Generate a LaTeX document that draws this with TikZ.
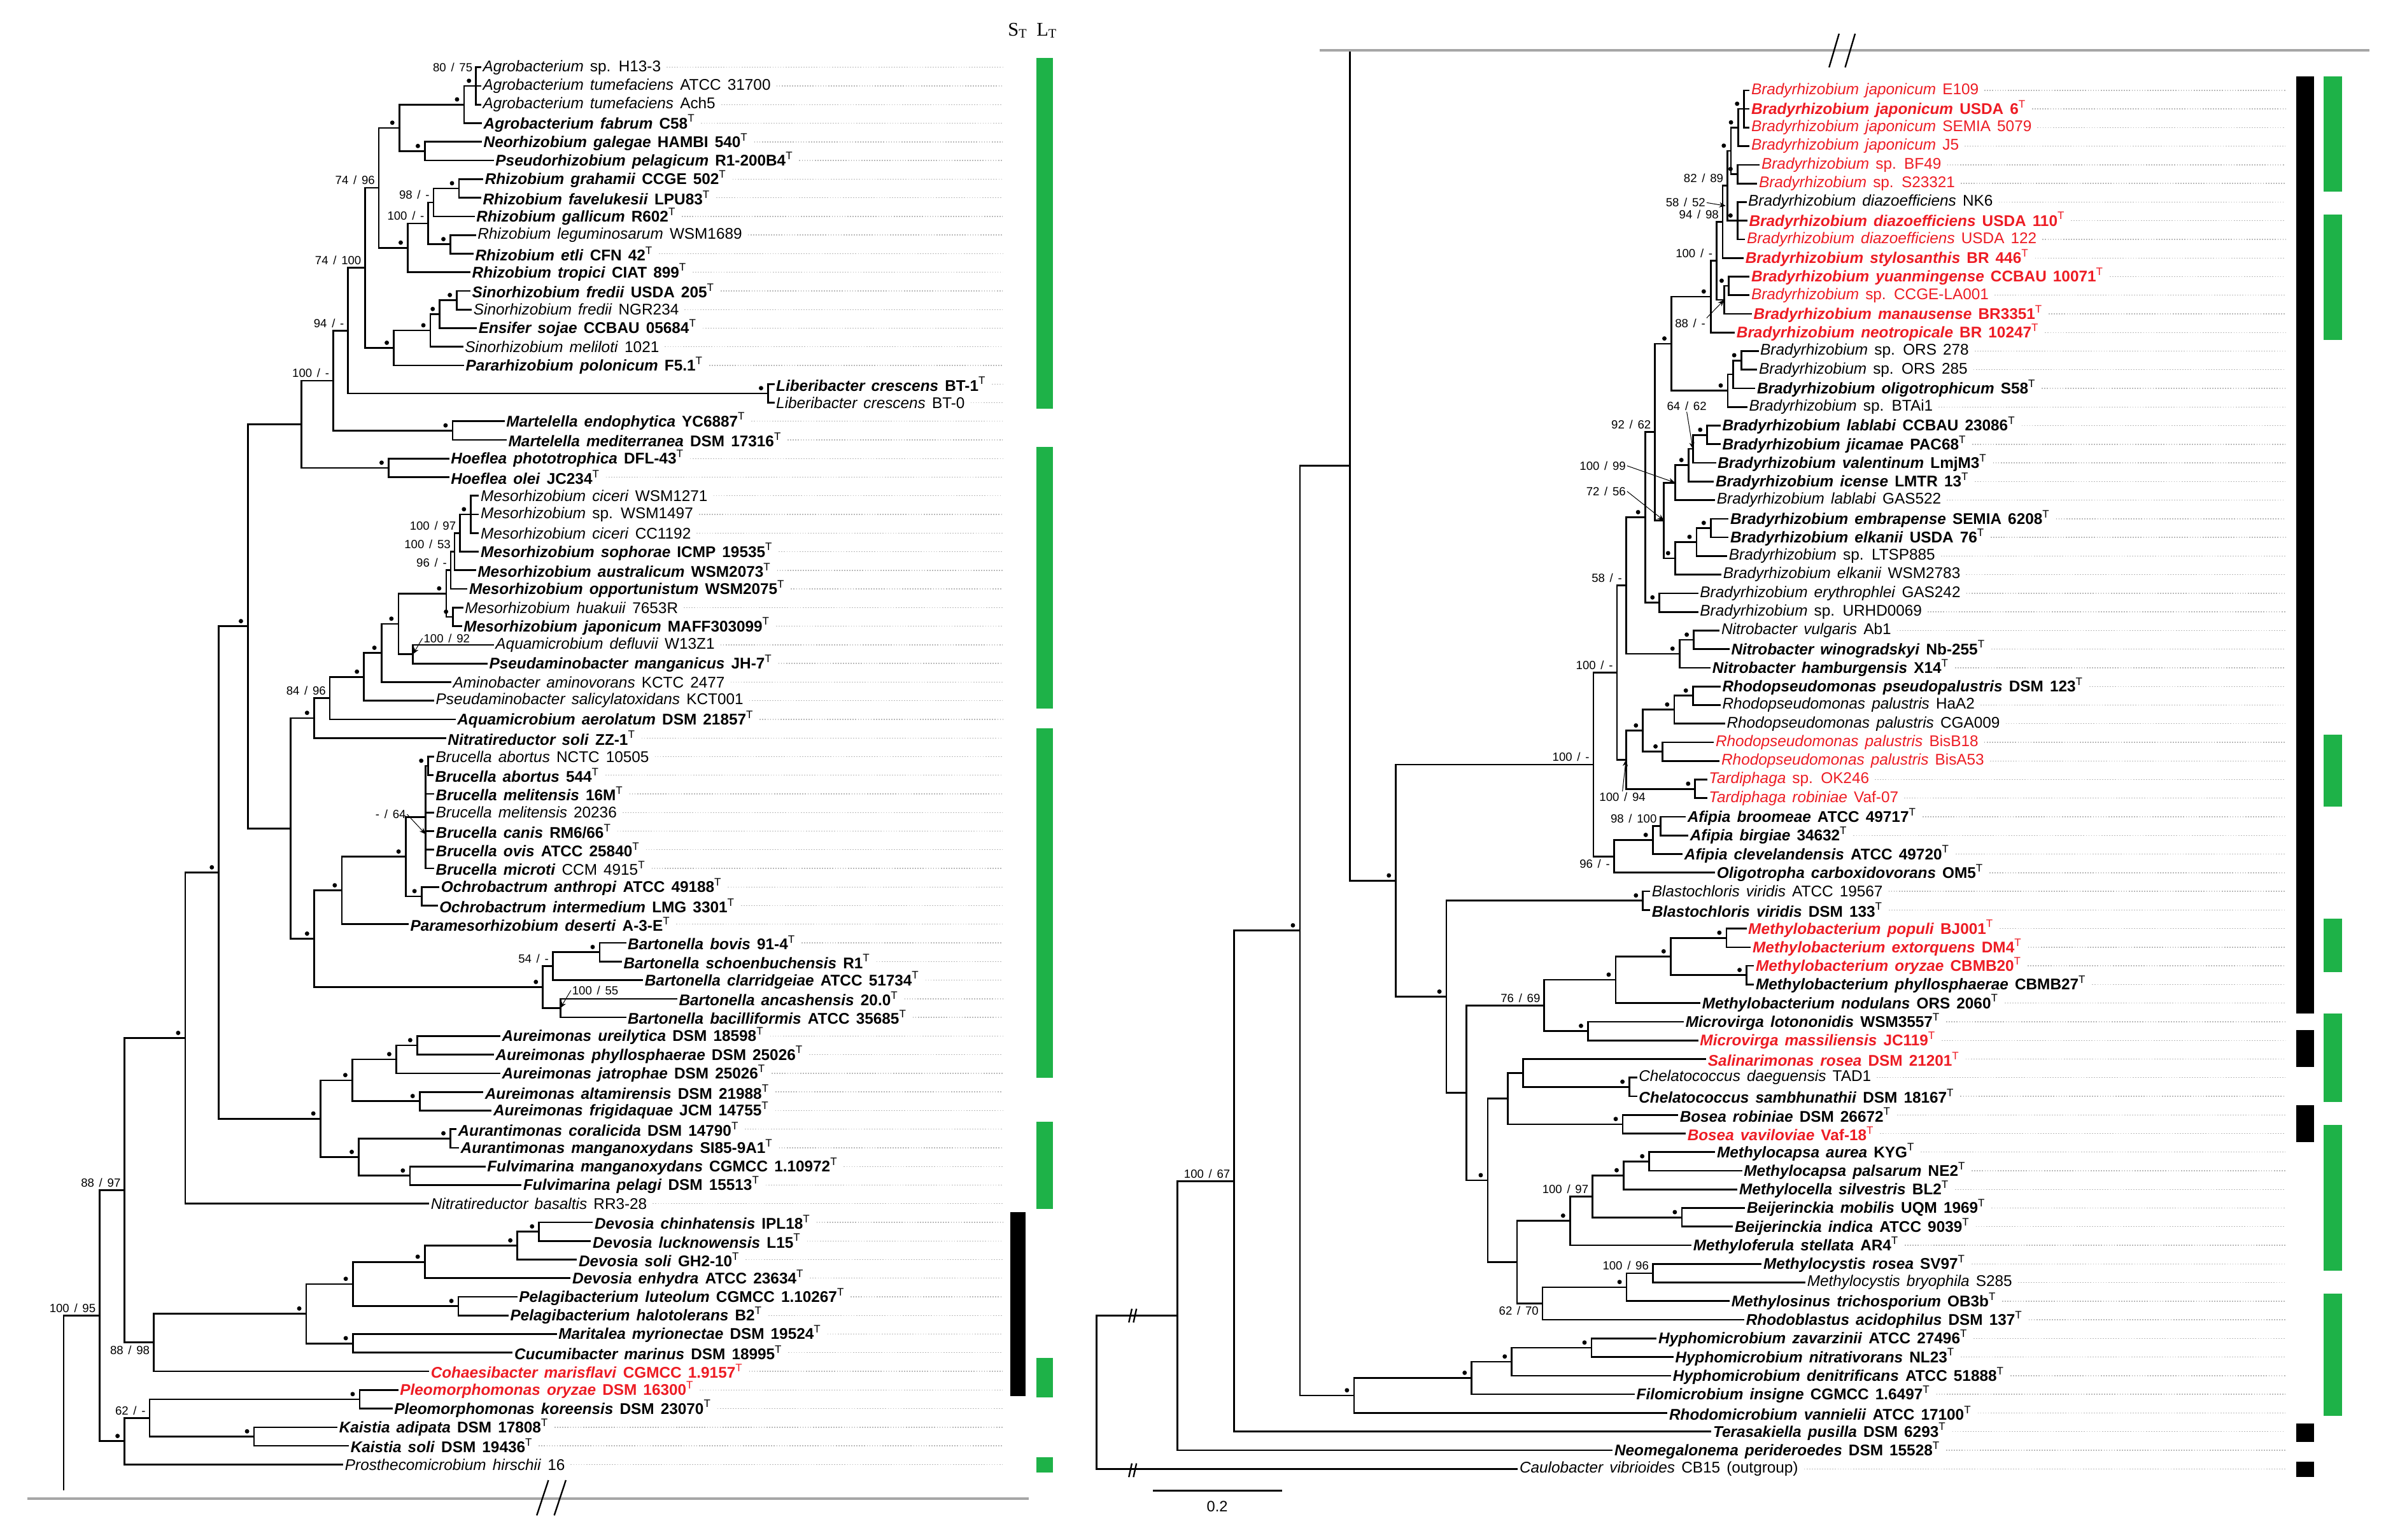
\documentclass[tikz,border=0pt]{standalone}
\usepackage{fontspec}
\setmainfont{Liberation Sans}[WordSpace=1.5]
\newfontfamily\serifhead{Liberation Serif}
\usepackage{tikz}
\usetikzlibrary{calc,arrows.meta}
\definecolor{strainred}{RGB}{237,28,36}
\definecolor{bargreen}{RGB}{30,178,72}
\definecolor{guidegray}{RGB}{185,185,185}

\tikzset{
  br/.style={line width=0.8pt, line cap=rect},
  leaf/.style={anchor=west, inner sep=1pt, font=\fontsize{7.2}{7.5}\selectfont},
  supp/.style={inner sep=0.4pt, font=\fontsize{5.5}{6}\selectfont},
  guide/.style={guidegray, line width=0.4pt, dash pattern=on 0.5pt off 0.7pt},
  sarr/.style={line width=0.3pt, -{Stealth[length=3pt,width=2.4pt]}},
  axisline/.style={gray!70, line width=1.1pt},
  breakmark/.style={line width=0.7pt}
}

% species labels
\newcommand{\nm}[2]{\textit{#1} #2}
\newcommand{\ty}[2]{\textbf{\textit{#1} #2}\textsuperscript{T}}
\newcommand{\rd}[1]{\textcolor{strainred}{#1}}

% leaves of the left and right panel
\newcommand{\lfL}[4]{%
  \node[leaf] (#1) at (#3,{44+(#2-1)*12.17}) {#4};
  \draw[guide] ([xshift=1.5pt]#1.east) -- (#1.east -| guideL);}
\newcommand{\lfR}[4]{%
  \node[leaf] (#1) at (#3,{59+(#2-1)*12.17}) {#4};
  \draw[guide] ([xshift=1.5pt]#1.east) -- (#1.east -| guideR);}

% clade: name, x, upper child, lower child
\newcommand{\cl}[4]{%
  \path let \p1=($(#3)!0.5!(#4)$), \p2=(#2,0) in coordinate (#1) at (\x2,\y1);
  \draw[br] (#1) |- (#3);
  \draw[br] (#1) |- (#4);}
\newcommand{\clm}[5]{%
  \cl{#1}{#2}{#3}{#4}%
  \foreach \c in {#5}{\draw[br] (#1) |- (\c);}}

% support marks
\newcommand{\dt}[1]{\fill ([shift={(-4.6,-3.4)}]#1) circle (0.36mm);}
\newcommand{\bs}[2]{\node[supp, anchor=south east] (b#1) at ([shift={(-1.8,-1.2)}]#1) {#2};}
\newcommand{\bsb}[2]{\node[supp, anchor=north east] (b#1) at ([shift={(-1.8,1.2)}]#1) {#2};}

\begin{document}
\begin{tikzpicture}[x=0.25mm, y=-0.25mm]
\useasboundingbox (0,0) rectangle (1568,1006);

\coordinate (guideL) at (655,0);
\coordinate (guideR) at (1493,0);

% ---------------- left panel: leaves
\lfL{agrH}{1}{313.8}{\nm{Agrobacterium}{sp. H13-3}}
\lfL{agrAtcc}{2}{313.8}{\nm{Agrobacterium tumefaciens}{ATCC 31700}}
\lfL{agrAch}{3}{313.8}{\nm{Agrobacterium tumefaciens}{Ach5}}
\lfL{agrFab}{4}{314.3}{\ty{Agrobacterium fabrum}{C58}}
\lfL{neoGal}{5}{314.3}{\ty{Neorhizobium galegae}{HAMBI 540}}
\lfL{psePel}{6}{322.1}{\ty{Pseudorhizobium pelagicum}{R1-200B4}}
\lfL{rhGra}{7}{315.2}{\ty{Rhizobium grahamii}{CCGE 502}}
\lfL{rhFav}{8}{313.8}{\ty{Rhizobium favelukesii}{LPU83}}
\lfL{rhGal}{9}{309.6}{\ty{Rhizobium gallicum}{R602}}
\lfL{rhLeg}{10}{310.4}{\nm{Rhizobium leguminosarum}{WSM1689}}
\lfL{rhEtl}{11}{308.8}{\ty{Rhizobium etli}{CFN 42}}
\lfL{rhTro}{12}{306.8}{\ty{Rhizobium tropici}{CIAT 899}}
\lfL{sinUsda}{13}{306.8}{\ty{Sinorhizobium fredii}{USDA 205}}
\lfL{sinNgr}{14}{307.7}{\nm{Sinorhizobium fredii}{NGR234}}
\lfL{ensSoj}{15}{311.0}{\ty{Ensifer sojae}{CCBAU 05684}}
\lfL{sinMel}{16}{302.1}{\nm{Sinorhizobium meliloti}{1021}}
\lfL{parPol}{17}{302.6}{\ty{Pararhizobium polonicum}{F5.1}}
\lfL{libBt1}{18}{505.4}{\ty{Liberibacter crescens}{BT-1}}
\lfL{libBt0}{19}{505.4}{\nm{Liberibacter crescens}{BT-0}}
\lfL{marEnd}{20}{329.1}{\ty{Martelella endophytica}{YC6887}}
\lfL{marMed}{21}{330.5}{\ty{Martelella mediterranea}{DSM 17316}}
\lfL{hoePho}{22}{292.9}{\ty{Hoeflea phototrophica}{DFL-43}}
\lfL{hoeOle}{23}{292.9}{\ty{Hoeflea olei}{JC234}}
\lfL{mesW1271}{24}{312.4}{\nm{Mesorhizobium ciceri}{WSM1271}}
\lfL{mesW1497}{25}{312.4}{\nm{Mesorhizobium}{sp. WSM1497}}
\lfL{mesCC}{26}{312.4}{\nm{Mesorhizobium ciceri}{CC1192}}
\lfL{mesSop}{27}{312.4}{\ty{Mesorhizobium sophorae}{ICMP 19535}}
\lfL{mesAus}{28}{310.4}{\ty{Mesorhizobium australicum}{WSM2073}}
\lfL{mesOpp}{29}{304.9}{\ty{Mesorhizobium opportunistum}{WSM2075}}
\lfL{mesHua}{30}{302.1}{\nm{Mesorhizobium huakuii}{7653R}}
\lfL{mesJap}{31}{301.3}{\ty{Mesorhizobium japonicum}{MAFF303099}}
\lfL{aquDef}{32}{322.1}{\nm{Aquamicrobium defluvii}{W13Z1}}
\lfL{psaMan}{33}{318.0}{\ty{Pseudaminobacter manganicus}{JH-7}}
\lfL{amiAmi}{34}{294.3}{\nm{Aminobacter aminovorans}{KCTC 2477}}
\lfL{psaSal}{35}{283.1}{\nm{Pseudaminobacter salicylatoxidans}{KCT001}}
\lfL{aquAer}{36}{297.1}{\ty{Aquamicrobium aerolatum}{DSM 21857}}
\lfL{nitSol}{37}{290.9}{\ty{Nitratireductor soli}{ZZ-1}}
\lfL{bruNctc}{38}{283.1}{\nm{Brucella abortus}{NCTC 10505}}
\lfL{bruAbo}{39}{282.6}{\ty{Brucella abortus}{544}}
\lfL{bruMel}{40}{283.1}{\ty{Brucella melitensis}{16M}}
\lfL{bruMel2}{41}{283.1}{\nm{Brucella melitensis}{20236}}
\lfL{bruCan}{42}{283.1}{\ty{Brucella canis}{RM6/66}}
\lfL{bruOvi}{43}{283.1}{\ty{Brucella ovis}{ATCC 25840}}
\lfL{bruMic}{44}{283.1}{\textbf{\textit{Brucella microti}} CCM 4915\textsuperscript{T}}
\lfL{ochAnt}{45}{286.5}{\ty{Ochrobactrum anthropi}{ATCC 49188}}
\lfL{ochInt}{46}{285.4}{\ty{Ochrobactrum intermedium}{LMG 3301}}
\lfL{parDes}{47}{266.4}{\ty{Paramesorhizobium deserti}{A-3-E}}
\lfL{barBov}{48}{408.5}{\ty{Bartonella bovis}{91-4}}
\lfL{barSch}{49}{405.7}{\ty{Bartonella schoenbuchensis}{R1}}
\lfL{barCla}{50}{419.6}{\ty{Bartonella clarridgeiae}{ATCC 51734}}
\lfL{barAnc}{51}{441.9}{\ty{Bartonella ancashensis}{20.0}}
\lfL{barBac}{52}{408.5}{\ty{Bartonella bacilliformis}{ATCC 35685}}
\lfL{aurUre}{53}{326.3}{\ty{Aureimonas ureilytica}{DSM 18598}}
\lfL{aurPhy}{54}{322.1}{\ty{Aureimonas phyllosphaerae}{DSM 25026}}
\lfL{aurJat}{55}{326.3}{\ty{Aureimonas jatrophae}{DSM 25026}}
\lfL{aurAlt}{56}{315.2}{\ty{Aureimonas altamirensis}{DSM 21988}}
\lfL{aurFri}{57}{320.7}{\ty{Aureimonas frigidaquae}{JCM 14755}}
\lfL{antCor}{58}{297.6}{\ty{Aurantimonas coralicida}{DSM 14790}}
\lfL{antMan}{59}{299.3}{\ty{Aurantimonas manganoxydans}{SI85-9A1}}
\lfL{fulMan}{60}{316.6}{\ty{Fulvimarina manganoxydans}{CGMCC 1.10972}}
\lfL{fulPel}{61}{340.2}{\ty{Fulvimarina pelagi}{DSM 15513}}
\lfL{nitBas}{62}{279.8}{\nm{Nitratireductor basaltis}{RR3-28}}
\lfL{devChi}{63}{386.8}{\ty{Devosia chinhatensis}{IPL18}}
\lfL{devLuc}{64}{385.6}{\ty{Devosia lucknowensis}{L15}}
\lfL{devSol}{65}{376.4}{\ty{Devosia soli}{GH2-10}}
\lfL{devEnh}{66}{372.3}{\ty{Devosia enhydra}{ATCC 23634}}
\lfL{pelLut}{67}{337.4}{\ty{Pelagibacterium luteolum}{CGMCC 1.10267}}
\lfL{pelHal}{68}{331.7}{\ty{Pelagibacterium halotolerans}{B2}}
\lfL{marMyr}{69}{363.2}{\ty{Maritalea myrionectae}{DSM 19524}}
\lfL{cucMar}{70}{334.4}{\ty{Cucumibacter marinus}{DSM 18995}}
\lfL{cohMar}{71}{279.8}{\rd{\ty{Cohaesibacter marisflavi}{CGMCC 1.9157}}}
\lfL{pleOry}{72}{259.7}{\rd{\ty{Pleomorphomonas oryzae}{DSM 16300}}}
\lfL{pleKor}{73}{255.9}{\ty{Pleomorphomonas koreensis}{DSM 23070}}
\lfL{kaiAdi}{74}{219.9}{\ty{Kaistia adipata}{DSM 17808}}
\lfL{kaiSol}{75}{227.4}{\ty{Kaistia soli}{DSM 19436}}
\lfL{proHir}{76}{223.7}{\nm{Prosthecomicrobium hirschii}{16}}

% ---------------- left panel: clades
\clm{nA}{311.0}{agrH}{agrAch}{agrAtcc}
\cl{nB}{303.2}{nA}{agrFab}
\cl{nD}{277.6}{neoGal}{psePel}
\cl{nC}{260.9}{nB}{nD}
\cl{nF4}{299.9}{rhGra}{rhFav}
\cl{nF2}{283.2}{nF4}{rhGal}
\cl{nF3}{294.3}{rhLeg}{rhEtl}
\cl{nF1}{279.8}{nF2}{nF3}
\cl{nF}{266.4}{nF1}{rhTro}
\cl{nE}{247.5}{nC}{nF}
\cl{nS1}{298.5}{sinUsda}{sinNgr}
\cl{nS2}{287.3}{nS1}{ensSoj}
\cl{nS3}{281.2}{nS2}{sinMel}
\cl{nS4}{257.3}{nS3}{parPol}
\cl{nH}{238.6}{nE}{nS4}
\cl{nL}{501.8}{libBt1}{libBt0}
\cl{nI}{227.4}{nH}{nL}
\cl{nM}{295.7}{marEnd}{marMed}
\cl{nJ}{217.7}{nI}{nM}
\cl{nHo}{253.9}{hoePho}{hoeOle}
\clm{nMe1}{307.7}{mesW1271}{mesCC}{mesW1497}
\cl{nMe2}{300.5}{nMe1}{mesSop}
\cl{nMe3}{297.0}{nMe2}{mesAus}
\cl{nMe4}{294.5}{nMe3}{mesOpp}
\cl{nMe5}{296.0}{mesHua}{mesJap}
\cl{nMe}{291.5}{nMe4}{nMe5}
\cl{nAq}{269.8}{aquDef}{psaMan}
\cl{nMA}{260.3}{nMe}{nAq}
\cl{nMA2}{249.2}{nMA}{amiAmi}
\cl{nMA3}{237.8}{nMA2}{psaSal}
\cl{nMA4}{215.5}{nMA3}{aquAer}
\cl{nMA5}{205.2}{nMA4}{nitSol}
\cl{nBc1}{279.8}{bruNctc}{bruAbo}
\clm{nBc}{278.1}{nBc1}{bruMic}{bruMel,bruMel2,bruCan,bruOvi}
\cl{nOc}{275.4}{ochAnt}{ochInt}
\cl{nBr}{265.0}{nBc}{nOc}
\cl{nBO}{223.3}{nBr}{parDes}
\cl{nBa1}{391.8}{barBov}{barSch}
\cl{nBa2}{361.1}{nBa1}{barCla}
\cl{nBa3}{366.1}{barAnc}{barBac}
\cl{nBa}{354.7}{nBa2}{nBa3}
\cl{nBB}{205.2}{nBO}{nBa}
\cl{nAu1}{272.6}{aurUre}{aurPhy}
\cl{nAu2}{258.9}{nAu1}{aurJat}
\cl{nAu3}{274.2}{aurAlt}{aurFri}
\cl{nAu4}{230.2}{nAu2}{nAu3}
\cl{nAt1}{294.3}{antCor}{antMan}
\cl{nFu}{267.8}{fulMan}{fulPel}
\cl{nAt2}{234.4}{nAt1}{nFu}
\cl{nAA}{209.3}{nAu4}{nAt2}
\cl{nDv1}{352.2}{devChi}{devLuc}
\cl{nDv2}{338.0}{nDv1}{devSol}
\cl{nDv3}{277.5}{nDv2}{devEnh}
\cl{nPe}{299.5}{pelLut}{pelHal}
\cl{nDv4}{230.5}{nDv3}{nPe}
\cl{nMC}{230.5}{marMyr}{cucMar}
\cl{nDv5}{200.1}{nDv4}{nMC}
\cl{nD0}{100.4}{nDv5}{cohMar}
\cl{nPl}{235.0}{pleOry}{pleKor}
\cl{nKa}{166.0}{kaiAdi}{kaiSol}
\cl{nK1}{97.7}{nPl}{nKa}
\cl{nK0}{81.4}{nK1}{proHir}
\cl{nP1}{197.0}{nJ}{nHo}
\cl{nP2}{190.0}{nMA5}{nBB}
\cl{nP3}{162.0}{nP1}{nP2}
\cl{nP4}{143.0}{nP3}{nAA}
\cl{nN3}{121.0}{nP4}{nitBas}
\cl{nN2}{81.4}{nN3}{nD0}
\cl{nN1}{65.1}{nN2}{nK0}
\coordinate (rootL) at (41.6,973);
\draw[br] (rootL) |- (nN1);

% left support values
\foreach \n in {nA,nB,nD,nC,nF4,nF3,nF,nS1,nS2,nS3,nS4,nL,nM,nHo,nMe1,nMe5,nMe,
  nMA,nMA2,nMA3,nMA5,nBc1,nOc,nBr,nBO,nBa1,nBa,nBB,nAu1,nAu2,nAu3,nAu4,nAt1,nFu,
  nAt2,nAA,nDv1,nDv2,nDv3,nPe,nDv4,nMC,nDv5,nPl,nKa,nK0,nP3,nP4,nN3}{\dt{\n}}
\node[supp, anchor=east] (bnA) at (309.5,44) {80 / 75};
\bs{nF2}{98 / -}
\bs{nF1}{100 / -}
\bs{nE}{74 / 96}
\bs{nH}{74 / 100}
\bs{nI}{94 / -}
\bs{nJ}{100 / -}
\bs{nMe2}{100 / 97}
\bs{nMe3}{100 / 53}
\bs{nMe4}{96 / -}
\bs{nMA4}{84 / 96}
\bs{nBa2}{54 / -}
\bsb{nD0}{88 / 98}
\bs{nK1}{62 / -}
\bs{nN2}{88 / 97}
\bs{nN1}{100 / 95}
\node[supp, anchor=west] (bnAq) at (276,417) {100 / 92};
\draw[sarr] (bnAq.west) -- (nAq);
\node[supp, anchor=east] (bnBc) at (266,532) {- / 64};
\draw[sarr] (bnBc.east) -- (278.1,545);
\node[supp, anchor=west] (bnBa3) at (373,647) {100 / 55};
\draw[sarr] (bnBa3.west) -- (nBa3);

% left axis
\draw[axisline] (18,979) -- (672,979);
\draw[breakmark] (358.3,967) -- (350.7,990);
\draw[breakmark] (369.7,967) -- (362.1,990);

% left bars
\node[font=\serifhead\fontsize{9}{10}\selectfont, inner sep=0pt] (hS) at (665,20) {S\textsubscript{T}};
\node[font=\serifhead\fontsize{9}{10}\selectfont, inner sep=0pt] (hL) at (684,20) {L\textsubscript{T}};
\foreach \ya/\yb in {38/267, 292/463, 476/704, 733/790, 887/913, 952/962}
{
    \fill[bargreen] (677,\ya) rectangle (688,\yb);
}
\fill[black] (660,792) rectangle (670,912);

% ---------------- right panel: leaves
\lfR{bjE109}{1}{1142.5}{\rd{\nm{Bradyrhizobium japonicum}{E109}}}
\lfR{bjUsda6}{2}{1142.5}{\rd{\ty{Bradyrhizobium japonicum}{USDA 6}}}
\lfR{bjSemia}{3}{1142.5}{\rd{\nm{Bradyrhizobium japonicum}{SEMIA 5079}}}
\lfR{bjJ5}{4}{1142.5}{\rd{\nm{Bradyrhizobium japonicum}{J5}}}
\lfR{bBf49}{5}{1149.2}{\rd{\nm{Bradyrhizobium}{sp. BF49}}}
\lfR{bS23321}{6}{1147.5}{\rd{\nm{Bradyrhizobium}{sp. S23321}}}
\lfR{bdNk6}{7}{1140.5}{\nm{Bradyrhizobium diazoefficiens}{NK6}}
\lfR{bdUsda110}{8}{1141.1}{\rd{\ty{Bradyrhizobium diazoefficiens}{USDA 110}}}
\lfR{bdUsda122}{9}{1139.6}{\rd{\nm{Bradyrhizobium diazoefficiens}{USDA 122}}}
\lfR{bSty}{10}{1138.7}{\rd{\ty{Bradyrhizobium stylosanthis}{BR 446}}}
\lfR{bYua}{11}{1142.5}{\rd{\ty{Bradyrhizobium yuanmingense}{CCBAU 10071}}}
\lfR{bCcge}{12}{1142.5}{\rd{\nm{Bradyrhizobium}{sp. CCGE-LA001}}}
\lfR{bMan}{13}{1144.0}{\rd{\ty{Bradyrhizobium manausense}{BR3351}}}
\lfR{bNeo}{14}{1132.9}{\rd{\ty{Bradyrhizobium neotropicale}{BR 10247}}}
\lfR{bOrs278}{15}{1148.4}{\nm{Bradyrhizobium}{sp. ORS 278}}
\lfR{bOrs285}{16}{1147.5}{\nm{Bradyrhizobium}{sp. ORS 285}}
\lfR{bOli}{17}{1146.3}{\ty{Bradyrhizobium oligotrophicum}{S58}}
\lfR{bBtai}{18}{1141.1}{\nm{Bradyrhizobium}{sp. BTAi1}}
\lfR{bLabC}{19}{1123.6}{\ty{Bradyrhizobium lablabi}{CCBAU 23086}}
\lfR{bJic}{20}{1123.6}{\ty{Bradyrhizobium jicamae}{PAC68}}
\lfR{bVal}{21}{1120.6}{\ty{Bradyrhizobium valentinum}{LmjM3}}
\lfR{bIce}{22}{1119.2}{\ty{Bradyrhizobium icense}{LMTR 13}}
\lfR{bLabG}{23}{1120.0}{\nm{Bradyrhizobium lablabi}{GAS522}}
\lfR{bEmb}{24}{1128.8}{\ty{Bradyrhizobium embrapense}{SEMIA 6208}}
\lfR{bElkU}{25}{1128.8}{\ty{Bradyrhizobium elkanii}{USDA 76}}
\lfR{bLtsp}{26}{1127.9}{\nm{Bradyrhizobium}{sp. LTSP885}}
\lfR{bElkW}{27}{1124.1}{\nm{Bradyrhizobium elkanii}{WSM2783}}
\lfR{bEry}{28}{1109.0}{\nm{Bradyrhizobium erythrophlei}{GAS242}}
\lfR{bUrhd}{29}{1109.0}{\nm{Bradyrhizobium}{sp. URHD0069}}
\lfR{nbVul}{30}{1123.0}{\nm{Nitrobacter vulgaris}{Ab1}}
\lfR{nbWin}{31}{1129.4}{\ty{Nitrobacter winogradskyi}{Nb-255}}
\lfR{nbHam}{32}{1117.1}{\ty{Nitrobacter hamburgensis}{X14}}
\lfR{rpPse}{33}{1123.6}{\ty{Rhodopseudomonas pseudopalustris}{DSM 123}}
\lfR{rpHaa}{34}{1123.6}{\nm{Rhodopseudomonas palustris}{HaA2}}
\lfR{rpCga}{35}{1126.5}{\nm{Rhodopseudomonas palustris}{CGA009}}
\lfR{rpBisB}{36}{1119.2}{\rd{\nm{Rhodopseudomonas palustris}{BisB18}}}
\lfR{rpBisA}{37}{1123.0}{\rd{\nm{Rhodopseudomonas palustris}{BisA53}}}
\lfR{taOk}{38}{1114.8}{\rd{\nm{Tardiphaga}{sp. OK246}}}
\lfR{taRob}{39}{1114.8}{\rd{\nm{Tardiphaga robiniae}{Vaf-07}}}
\lfR{afBro}{40}{1100.8}{\ty{Afipia broomeae}{ATCC 49717}}
\lfR{afBir}{41}{1102.5}{\ty{Afipia birgiae}{34632}}
\lfR{afCle}{42}{1098.8}{\ty{Afipia clevelandensis}{ATCC 49720}}
\lfR{olCar}{43}{1120.0}{\ty{Oligotropha carboxidovorans}{OM5}}
\lfR{blAtcc}{44}{1077.5}{\nm{Blastochloris viridis}{ATCC 19567}}
\lfR{blDsm}{45}{1077.5}{\ty{Blastochloris viridis}{DSM 133}}
\lfR{mbPop}{46}{1140.5}{\rd{\ty{Methylobacterium populi}{BJ001}}}
\lfR{mbExt}{47}{1143.4}{\rd{\ty{Methylobacterium extorquens}{DM4}}}
\lfR{mbOry}{48}{1145.4}{\rd{\ty{Methylobacterium oryzae}{CBMB20}}}
\lfR{mbPhy}{49}{1145.4}{\ty{Methylobacterium phyllosphaerae}{CBMB27}}
\lfR{mbNod}{50}{1110.4}{\ty{Methylobacterium nodulans}{ORS 2060}}
\lfR{mvLot}{51}{1099.6}{\ty{Microvirga lotononidis}{WSM3557}}
\lfR{mvMas}{52}{1109.0}{\rd{\ty{Microvirga massiliensis}{JC119}}}
\lfR{salRos}{53}{1114.2}{\rd{\ty{Salinarimonas rosea}{DSM 21201}}}
\lfR{chDae}{54}{1069.0}{\nm{Chelatococcus daeguensis}{TAD1}}
\lfR{chSam}{55}{1069.0}{\ty{Chelatococcus sambhunathii}{DSM 18167}}
\lfR{boRob}{56}{1095.8}{\ty{Bosea robiniae}{DSM 26672}}
\lfR{boVav}{57}{1100.8}{\rd{\ty{Bosea vaviloviae}{Vaf-18}}}
\lfR{mcAur}{58}{1120.1}{\ty{Methylocapsa aurea}{KYG}}
\lfR{mcPal}{59}{1137.6}{\ty{Methylocapsa palsarum}{NE2}}
\lfR{mclSil}{60}{1134.6}{\ty{Methylocella silvestris}{BL2}}
\lfR{beMob}{61}{1139.6}{\ty{Beijerinckia mobilis}{UQM 1969}}
\lfR{beInd}{62}{1131.7}{\ty{Beijerinckia indica}{ATCC 9039}}
\lfR{mfSte}{63}{1104.6}{\ty{Methyloferula stellata}{AR4}}
\lfR{myRos}{64}{1150.4}{\ty{Methylocystis rosea}{SV97}}
\lfR{myBry}{65}{1179.0}{\nm{Methylocystis bryophila}{S285}}
\lfR{msTri}{66}{1129.5}{\ty{Methylosinus trichosporium}{OB3b}}
\lfR{rbAci}{67}{1139.1}{\ty{Rhodoblastus acidophilus}{DSM 137}}
\lfR{hyZav}{68}{1081.8}{\ty{Hyphomicrobium zavarzinii}{ATCC 27496}}
\lfR{hyNit}{69}{1092.8}{\ty{Hyphomicrobium nitrativorans}{NL23}}
\lfR{hyDen}{70}{1091.3}{\ty{Hyphomicrobium denitrificans}{ATCC 51888}}
\lfR{fiIns}{71}{1067.5}{\ty{Filomicrobium insigne}{CGMCC 1.6497}}
\lfR{rmVan}{72}{1088.9}{\ty{Rhodomicrobium vannielii}{ATCC 17100}}
\lfR{tePus}{73}{1117.6}{\ty{Terasakiella pusilla}{DSM 6293}}
\lfR{neoPer}{74}{1053.1}{\ty{Neomegalonema perideroedes}{DSM 15528}}
\lfR{cauVib}{75}{991.1}{\nm{Caulobacter vibrioides}{CB15 (outgroup)}}

% ---------------- right panel: clades
\clm{nBj1}{1139.5}{bjE109}{bjSemia}{bjUsda6}
\cl{nBj2}{1135.5}{nBj1}{bjJ5}
\cl{nBf}{1135.2}{bBf49}{bS23321}
\cl{nBj3}{1130.8}{nBj2}{nBf}
\clm{nBd1}{1135.2}{bdNk6}{bdUsda122}{bdUsda110}
\cl{nBd2}{1128.5}{nBj3}{nBd1}
\cl{nBs}{1125.5}{nBd2}{bSty}
\cl{nBy}{1129.4}{bYua}{bCcge}
\cl{nBm1}{1126.5}{nBy}{bMan}
\cl{nU}{1121.5}{nBs}{nBm1}
\cl{nBr1}{1117.7}{nU}{bNeo}
\cl{nOr1}{1137.6}{bOrs278}{bOrs285}
\cl{nOr2}{1132.3}{nOr1}{bOli}
\cl{nOr3}{1128.8}{nOr2}{bBtai}
\cl{nBr2}{1092.0}{nBr1}{nOr3}
\cl{nLa1}{1115.4}{bLabC}{bJic}
\cl{nLa2}{1106.0}{nLa1}{bVal}
\cl{nLa3}{1103.1}{nLa2}{bIce}
\cl{nLa4}{1094.4}{nLa3}{bLabG}
\cl{nEl1}{1117.7}{bEmb}{bElkU}
\cl{nEl2}{1108.4}{nEl1}{bLtsp}
\cl{nEl3}{1094.4}{nEl2}{bElkW}
\cl{nLa5}{1087.1}{nLa4}{nEl3}
\cl{nBR3}{1081.2}{nBr2}{nLa5}
\cl{nEr}{1084.2}{bEry}{bUrhd}
\cl{nBR4}{1074.8}{nBR3}{nEr}
\cl{nNb1}{1106.6}{nbVul}{nbWin}
\cl{nNb2}{1097.3}{nNb1}{nbHam}
\cl{nA58}{1062.3}{nBR4}{nNb2}
\cl{nRp1}{1106.0}{rpPse}{rpHaa}
\cl{nRp2}{1093.8}{nRp1}{rpCga}
\cl{nRp3}{1086.2}{rpBisB}{rpBisA}
\cl{nRp4}{1073.4}{nRp2}{nRp3}
\cl{nTa}{1107.5}{taOk}{taRob}
\cl{nRT}{1062.3}{nRp4}{nTa}
\cl{nX}{1056.4}{nA58}{nRT}
\cl{nAf1}{1085.0}{afBro}{afBir}
\cl{nAf2}{1079.8}{nAf1}{afCle}
\cl{nAf3}{1054.4}{nAf2}{olCar}
\cl{nXA}{1041.0}{nX}{nAf3}
\cl{nBl}{1073.4}{blAtcc}{blDsm}
\cl{nMb1}{1127.9}{mbPop}{mbExt}
\cl{nMb2}{1141.1}{mbOry}{mbPhy}
\cl{nMb3}{1091.5}{nMb1}{nMb2}
\cl{nMb4}{1055.6}{nMb3}{mbNod}
\cl{nMv}{1037.5}{mvLot}{mvMas}
\cl{nMM}{1008.9}{nMb4}{nMv}
\cl{nCh}{1064.6}{chDae}{chSam}
\cl{nBo}{1060.2}{boRob}{boVav}
\cl{nMc1}{1077.5}{mcAur}{mcPal}
\cl{nMc2}{1060.8}{nMc1}{mclSil}
\cl{nBe}{1098.8}{beMob}{beInd}
\cl{nMc3}{1040.4}{nMc2}{nBe}
\cl{nMc4}{1025.8}{nMc3}{mfSte}
\cl{nMy1}{1079.8}{myRos}{myBry}
\cl{nMy2}{1062.7}{nMy1}{msTri}
\cl{nMy3}{1007.8}{nMy2}{rbAci}
\cl{nMy4}{991.1}{nMc4}{nMy3}
\cl{nHy3}{1039.8}{hyZav}{hyNit}
\cl{nHy2}{987.7}{nHy3}{hyDen}
\cl{nHy1}{961.5}{nHy2}{fiIns}
\cl{nHy0}{884.6}{nHy1}{rmVan}
\cl{nZ2}{995.0}{salRos}{nCh}
\cl{nZ1}{985.0}{nZ2}{nBo}
\cl{nZ}{972.0}{nZ1}{nMy4}
\cl{nY}{958.0}{nMM}{nZ}
\cl{nXb}{945.0}{nBl}{nY}
\cl{nV2}{912.0}{nXA}{nXb}
\coordinate (topR) at (882,33);
\cl{nU4}{882.0}{topR}{nV2}
\cl{nN849}{849.3}{nU4}{nHy0}
\cl{nN806}{806.3}{nN849}{tePus}
\cl{nN769}{769.1}{nN806}{neoPer}
\cl{rootR}{716.5}{nN769}{cauVib}

% right support values
\foreach \n in {nBj1,nBj2,nBf,nBj3,nBd1,nBy,nBr1,nOr1,nOr3,nBr2,nLa1,nLa3,nEl1,nEl2,
  nEl3,nEr,nBR4,nNb1,nNb2,nRp1,nRp2,nRp3,nRp4,nTa,nAf2,nBl,nMb1,nMb2,nMb3,nMb4,nMv,
  nCh,nBo,nMc1,nMc2,nBe,nMc4,nMy2,nHy3,nHy2,nHy1,nHy0,nN849,nV2,nXb,nZ}{\dt{\n}}
\bs{nBd2}{82 / 89}
\bs{nBs}{94 / 98}
\bs{nU}{100 / -}
\bs{nBR3}{92 / 62}
\bs{nA58}{58 / -}
\bs{nX}{100 / -}
\bs{nXA}{100 / -}
\bs{nAf1}{98 / 100}
\bsb{nAf3}{96 / -}
\bs{nMM}{76 / 69}
\bs{nMc3}{100 / 97}
\bs{nMy1}{100 / 96}
\bsb{nMy3}{62 / 70}
\bs{nN806}{100 / 67}
\node[supp, anchor=east] (bnBd1) at (1115,132.4) {58 / 52};
\draw[sarr] (bnBd1.east) -- (1127.5,134.5);
\node[supp, anchor=east] (bnBm1) at (1115,211.4) {88 / -};
\draw[sarr] (bnBm1.north east) -- (nBm1);
\node[supp, anchor=south] (bnLa2) at (1102,269) {64 / 62};
\draw[sarr] (bnLa2.south) -- (nLa2);
\node[supp, anchor=east] (bnLa4) at (1063,304.3) {100 / 99};
\draw[sarr] (bnLa4.east) -- (nLa4);
\node[supp, anchor=east] (bnLa5) at (1063,321) {72 / 56};
\draw[sarr] (bnLa5.east) -- (nLa5);
\node[supp, anchor=north] (bnRT) at (1060,517) {100 / 94};
\draw[sarr] (bnRT.north) -- (nRT);

% right root breaks, axis and scale
\draw[breakmark] (737.5,864) -- (739.5,855) (740.5,864) -- (742.5,855);
\draw[breakmark] (737.5,965) -- (739.5,956) (740.5,965) -- (742.5,956);
\draw[axisline] (862,33) -- (1548,33);
\draw[breakmark] (1201.5,22) -- (1195,44);
\draw[breakmark] (1212,22) -- (1205.5,44);
\coordinate (scaleA) at (753.8,973.8);
\coordinate (scaleB) at (836.9,973.8);
\draw[br] (scaleA) -- (scaleB);
\node[font=\fontsize{7}{7.5}\selectfont] (scaleLbl) at (795.3,984) {0.2};

% right bars
\foreach \ya/\yb in {50/662, 673/697, 722/746, 930/942, 955/965}
{
    \fill[black] (1500,\ya) rectangle (1512,\yb);
}
\foreach \ya/\yb in {50/125, 140/222, 480/527, 600/635, 662/720, 735/830, 845/925}
{
    \fill[bargreen] (1518,\ya) rectangle (1530,\yb);
}

\end{tikzpicture}
\end{document}
